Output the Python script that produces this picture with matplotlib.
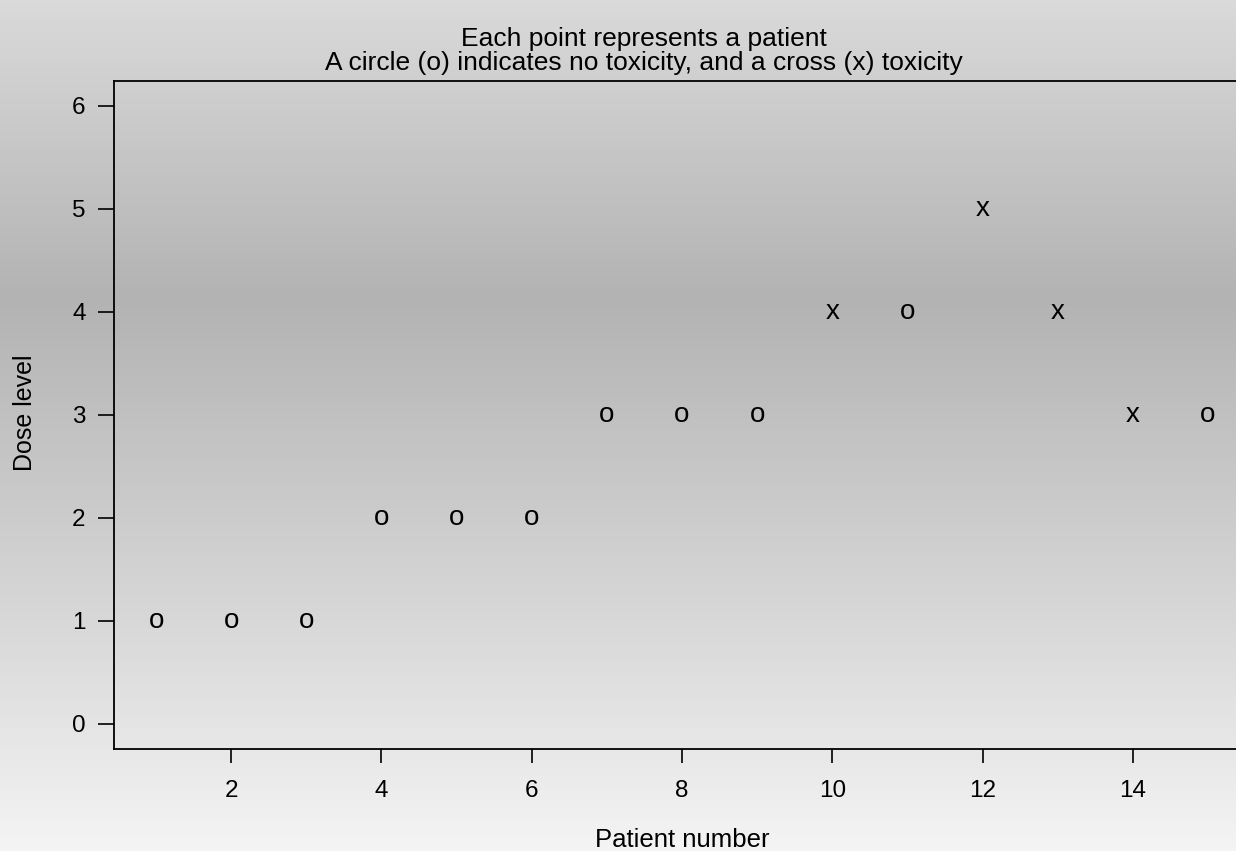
import matplotlib
matplotlib.use("Agg")
import matplotlib.pyplot as plt
import numpy as np
from matplotlib.colors import LinearSegmentedColormap

plt.rcParams["font.family"] = ["Liberation Sans", "DejaVu Sans"]

patient = [1, 2, 3, 4, 5, 6, 7, 8, 9, 10, 11, 12, 13, 14, 15]
dose = [1, 1, 1, 2, 2, 2, 3, 3, 3, 4, 4, 5, 4, 3, 3]
toxicity = [0, 0, 0, 0, 0, 0, 0, 0, 0, 1, 0, 1, 1, 1, 0]
x_ticks = [2, 4, 6, 8, 10, 12, 14]
y_ticks = [0, 1, 2, 3, 4, 5, 6]

W, H = 1236, 851
fig = plt.figure(figsize=(W / 100, H / 100), dpi=100)

# vertical grey gradient behind everything
bg = fig.add_axes([0, 0, 1, 1], zorder=-10)
grad = LinearSegmentedColormap.from_list(
    "bg",
    [(0.0, "#dadada"), (0.35, "#b3b3b3"), (0.75, "#dadada"), (1.0, "#f4f4f4")],
)
bg.imshow(np.linspace(0, 1, 256).reshape(-1, 1), aspect="auto", cmap=grad,
          extent=[0, 1, 0, 1], origin="upper")
bg.axis("off")

ax = fig.add_axes([114 / W, (H - 748.5) / H, (1250 - 114) / W, (748.5 - 81) / H])
ax.patch.set_alpha(0)
ax.set_xlim(0.44, 15.56)
ax.set_ylim(-0.24, 6.24)

for p, d, t in zip(patient, dose, toxicity):
    ax.text(p, d, "x" if t else "o", ha="center", va="center", fontsize=20,
            color="black")

ax.set_xticks(x_ticks)
ax.set_yticks(y_ticks)
ax.tick_params(axis="x", length=10, width=1.2, labelsize=17.5, pad=13)
ax.tick_params(axis="y", length=11.5, width=1.2, labelsize=17.5, pad=9)
for s in ax.spines.values():
    s.set_linewidth(1.3)

fig.text(643.5 / W, 1 - 39 / H, "Each point represents a patient",
         ha="center", va="center", fontsize=19)
fig.text(643.5 / W, 1 - 63 / H,
         "A circle (o) indicates no toxicity, and a cross (x) toxicity",
         ha="center", va="center", fontsize=19)
fig.text(682 / W, 1 - 840 / H, "Patient number", ha="center", va="center",
         fontsize=18.5)
fig.text(25 / W, 1 - 413 / H, "Dose level", ha="center", va="center",
         rotation=90, fontsize=18)

fig.savefig("out.png", dpi=100)
